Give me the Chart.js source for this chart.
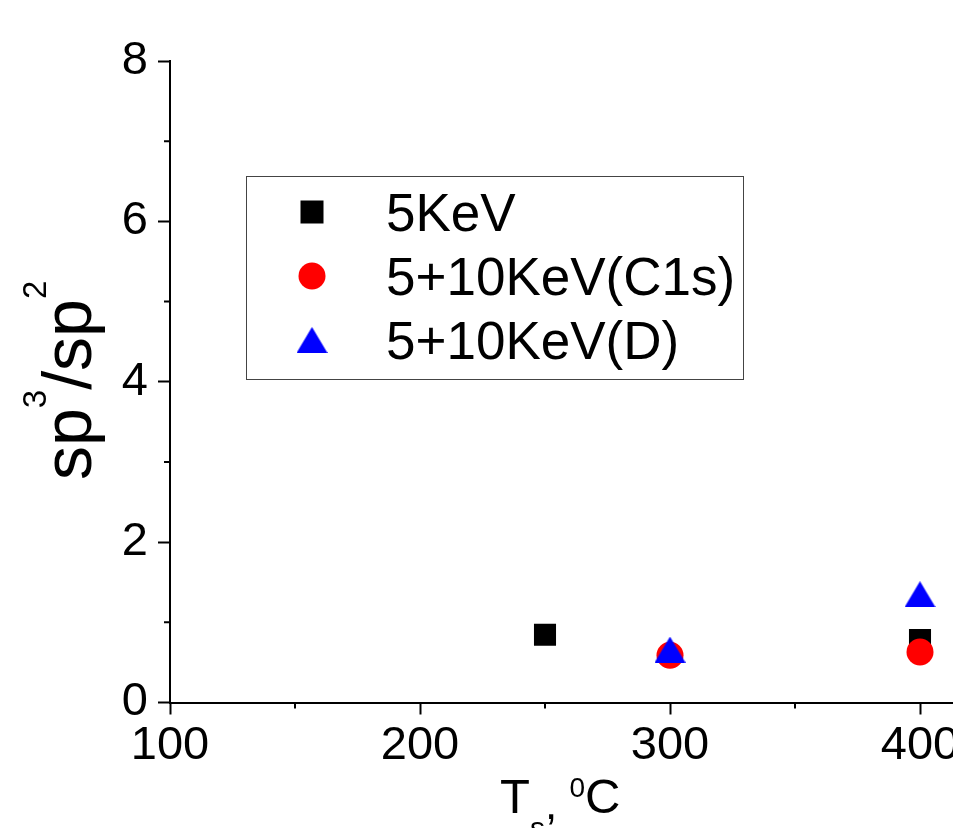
<!DOCTYPE html>
<html>
<head>
<meta charset="utf-8">
<script src="https://cdn.jsdelivr.net/npm/chart.js@4.4.0/dist/chart.umd.min.js"></script>
<style>
  html, body { margin: 0; padding: 0; background: #fff; overflow: hidden; }
  #wrap { width: 1100px; height: 828px; }
</style>
</head>
<body>
<div id="wrap"><canvas id="myChart" width="1100" height="828"></canvas></div>
<script>
// data
const seriesLabels = ["5KeV", "5+10KeV(C1s)", "5+10KeV(D)"];
const seriesColors = ["#000000", "#ff0000", "#0000ff"];
const temp5 = [250, 400];
const ratio5 = [0.845, 0.78];
const tempC1s = [300, 400];
const ratioC1s = [0.59, 0.63];
const tempD = [300, 400];
const ratioD = [0.66, 1.35];
const xTickLabels = [100, 200, 300, 400];
const yTickLabels = [0, 2, 4, 6, 8];
const xMinorTicks = [150, 250, 350];
const yMinorTicks = [1, 3, 5, 7];

const FONT = "'Liberation Sans', Arial, sans-serif";

function toPoints(xs, ys) {
  return xs.map((x, i) => ({ x: x, y: ys[i] }));
}

// Origin draws its triangle centred on the bounding box
function triangleImage(w, h, color) {
  const c = document.createElement("canvas");
  c.width = w;
  c.height = h;
  const g = c.getContext("2d");
  g.fillStyle = color;
  g.beginPath();
  g.moveTo(w / 2, 0);
  g.lineTo(w, h);
  g.lineTo(0, h);
  g.closePath();
  g.fill();
  return c;
}
const blueTriangle = triangleImage(31, 26, seriesColors[2]);

// draw a run of text pieces with their own size / baseline shift
function drawRich(ctx, parts, x, y) {
  let cx = x;
  parts.forEach(p => {
    ctx.font = p.size + "px " + FONT;
    ctx.fillText(p.t, cx, y + (p.dy || 0));
    cx += ctx.measureText(p.t).width;
  });
}

const extras = {
  id: "extras",
  afterDraw(chart) {
    const ctx = chart.ctx;
    const xs = chart.scales.x, ys = chart.scales.y;
    const area = chart.chartArea;
    ctx.save();

    // minor ticks
    ctx.strokeStyle = "#000";
    ctx.lineWidth = 2;
    ctx.beginPath();
    yMinorTicks.forEach(v => {
      const py = ys.getPixelForValue(v);
      ctx.moveTo(area.left - 6, py);
      ctx.lineTo(area.left, py);
    });
    xMinorTicks.forEach(v => {
      const px = xs.getPixelForValue(v);
      ctx.moveTo(px, area.bottom);
      ctx.lineTo(px, area.bottom + 6);
    });
    ctx.stroke();

    ctx.fillStyle = "#000";
    ctx.textBaseline = "alphabetic";
    ctx.textAlign = "left";

    // y title
    ctx.save();
    ctx.translate(91, 480);
    ctx.rotate(-Math.PI / 2);
    drawRich(ctx, [
      { t: "sp", size: 68 },
      { t: "3", size: 33, dy: -45 },
      { t: "/sp", size: 68 },
      { t: "2", size: 33, dy: -45 }
    ], 0, 0);
    ctx.restore();

    // x title
    drawRich(ctx, [
      { t: "T", size: 49 },
      { t: "s", size: 30, dy: 25 },
      { t: ",", size: 44, dy: 6 },
      { t: " ", size: 44 },
      { t: "0", size: 28, dy: -16 },
      { t: "C", size: 49 }
    ], 500, 813);

    // legend box
    ctx.strokeStyle = "#444";
    ctx.lineWidth = 1;
    ctx.strokeRect(246.5, 176.5, 497, 203);
    const rowY = [212, 276, 340];
    const mx = 312;
    ctx.fillStyle = seriesColors[0];
    ctx.fillRect(mx - 11.5, rowY[0] - 11.5, 23, 23);
    ctx.fillStyle = seriesColors[1];
    ctx.beginPath();
    ctx.arc(mx, rowY[1], 13.5, 0, Math.PI * 2);
    ctx.fill();
    ctx.drawImage(blueTriangle, mx - 15.5, rowY[2] - 13);
    ctx.fillStyle = "#000";
    ctx.font = "53px " + FONT;
    chart.data.datasets.forEach((ds, i) => {
      ctx.fillText(ds.label, 386, rowY[i] + 19);
    });

    ctx.restore();
  }
};

const myChart = new Chart(document.getElementById("myChart").getContext("2d"), {
  type: "scatter",
  data: {
    datasets: [
      {
        label: seriesLabels[0],
        data: toPoints(temp5, ratio5),
        order: 3,
        pointStyle: "rect",
        pointRadius: 15.6,
        pointHoverRadius: 15.6,
        backgroundColor: seriesColors[0],
        borderWidth: 0
      },
      {
        label: seriesLabels[1],
        data: toPoints(tempC1s, ratioC1s),
        order: 2,
        pointStyle: "circle",
        pointRadius: 13.5,
        pointHoverRadius: 13.5,
        backgroundColor: seriesColors[1],
        borderWidth: 0
      },
      {
        label: seriesLabels[2],
        data: toPoints(tempD, ratioD),
        order: 1,
        pointStyle: blueTriangle,
        pointRadius: 16,
        backgroundColor: seriesColors[2],
        borderWidth: 0
      }
    ]
  },
  options: {
    responsive: false,
    animation: false,
    devicePixelRatio: 1,
    layout: { padding: { top: 61, right: 55, left: 0, bottom: 0 } },
    plugins: {
      legend: { display: false },
      tooltip: { enabled: false }
    },
    scales: {
      x: {
        type: "linear",
        min: 100,
        max: 450,
        border: { display: true, color: "#000", width: 2 },
        grid: {
          drawOnChartArea: false,
          drawTicks: true,
          tickLength: 12,
          tickWidth: 2,
          tickColor: c => (c.tick && xTickLabels.includes(c.tick.value)) ? "#000" : "rgba(0,0,0,0)"
        },
        ticks: {
          stepSize: 50,
          autoSkip: false,
          maxRotation: 0,
          padding: 3,
          color: "#000",
          font: { family: FONT, size: 47 },
          callback: v => xTickLabels.includes(v) ? String(v) : ""
        },
        afterFit: s => { s.height = 828 - 702.5; }
      },
      y: {
        type: "linear",
        min: 0,
        max: 8,
        border: { display: true, color: "#000", width: 2 },
        grid: {
          drawOnChartArea: false,
          drawTicks: true,
          tickLength: 12,
          tickWidth: 2,
          tickColor: c => (c.tick && yTickLabels.includes(c.tick.value)) ? "#000" : "rgba(0,0,0,0)"
        },
        ticks: {
          stepSize: 1,
          autoSkip: false,
          padding: 10,
          color: "#000",
          font: { family: FONT, size: 47 },
          callback: v => yTickLabels.includes(v) ? String(v) : ""
        },
        afterFit: s => { s.width = 170; }
      }
    }
  },
  plugins: [extras]
});
</script>
</body>
</html>
